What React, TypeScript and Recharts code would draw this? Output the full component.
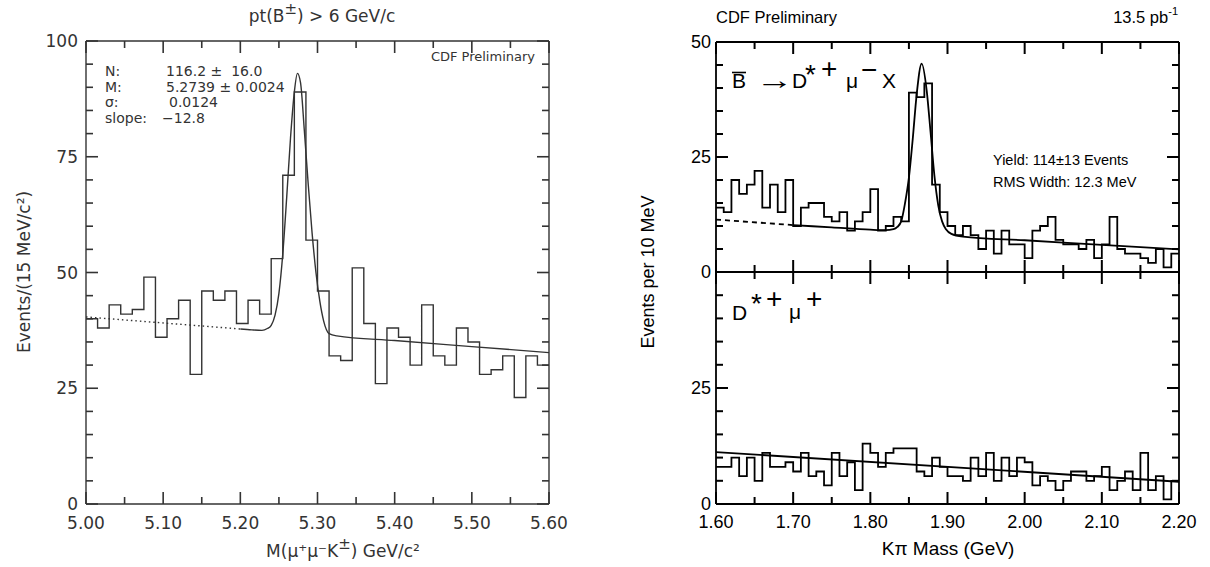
import { ComposedChart, Line, XAxis, YAxis } from 'recharts'

// left: B+- -> J/psi K+- mass, 15 MeV bins
const leftBinStart = 5.0
const leftBinWidth = 0.015
const leftCounts = [
  40, 38, 43, 41, 42, 49, 36, 40, 44, 28, 46, 44, 46, 39, 44, 41, 53, 71, 89, 57,
  46, 32, 31, 51, 39, 26, 38, 36, 30, 43, 32, 30, 38, 35, 28, 29, 32, 23, 32, 30,
]
const leftFitDotted = [
  [5.0, 40.4],
  [5.2, 37.8],
]
const leftFitSolid = [
  [5.2, 37.8], [5.215, 37.6], [5.228, 37.5], [5.235, 37.9], [5.24, 38.6], [5.245, 40.8],
  [5.25, 45.5], [5.255, 54.0], [5.26, 66.0], [5.265, 79.0], [5.27, 89.0], [5.274, 93.0],
  [5.278, 91.0], [5.283, 80.5], [5.288, 69.0], [5.293, 58.5], [5.298, 50.0], [5.303, 43.8],
  [5.308, 39.5], [5.315, 36.8], [5.325, 36.3], [5.4, 35.3], [5.5, 34.0], [5.6, 32.7],
]
const leftXTicks = [5.0, 5.05, 5.1, 5.15, 5.2, 5.25, 5.3, 5.35, 5.4, 5.45, 5.5, 5.55, 5.6]
const leftYTicks = [0, 5, 10, 15, 20, 25, 30, 35, 40, 45, 50, 55, 60, 65, 70, 75, 80, 85, 90, 95, 100]

// right: K pi mass, 10 MeV bins
const rightBinStart = 1.6
const rightBinWidth = 0.01
const rightTopCounts = [
  14, 13, 20, 17, 19, 22, 14, 19, 13, 20, 10, 14, 15, 15, 12, 11, 13, 9, 11, 13,
  18, 9, 10, 12, 11, 39, 38, 41, 19, 13, 10, 8, 10, 8, 5, 9, 4, 9, 6, 6,
  3, 9, 10, 12, 7, 6, 6, 5, 7, 3, 6, 12, 5, 4, 4, 3, 2, 5, 1, 4,
]
const rightBottomCounts = [
  8, 8, 10, 6, 10, 5, 11, 8, 8, 9, 7, 11, 6, 7, 4, 11, 6, 9, 3, 13,
  11, 8, 11, 12, 12, 12, 7, 6, 10, 8, 6, 6, 5, 10, 6, 11, 5, 10, 6, 10,
  9, 4, 6, 5, 3, 5, 7, 7, 5, 6, 8, 3, 5, 7, 3, 11, 3, 6, 1, 5,
]
const rightTopFitDashed = [
  [1.6, 11.4],
  [1.7, 10.2],
]
const rightTopFitSolid = [
  [1.7, 10.2], [1.75, 9.7], [1.8, 9.2], [1.82, 9.1], [1.83, 9.3], [1.835, 9.8], [1.84, 11.0],
  [1.845, 15.0], [1.85, 20.5], [1.855, 29.0], [1.86, 38.5], [1.8665, 45.3], [1.873, 39.5],
  [1.878, 30.5], [1.883, 21.0], [1.888, 14.5], [1.893, 11.0], [1.898, 9.3], [1.905, 8.3],
  [1.92, 7.7], [2.0, 6.9], [2.1, 5.9], [2.2, 4.9],
]
const rightBottomFit = [
  [1.6, 11.2],
  [2.2, 4.8],
]
const rightXTicks = [1.6, 1.65, 1.7, 1.75, 1.8, 1.85, 1.9, 1.95, 2.0, 2.05, 2.1, 2.15, 2.2]
const rightYTicks = [0, 5, 10, 15, 20, 25, 30, 35, 40, 45, 50]

function steps(start: number, width: number, counts: number[]) {
  const pts = counts.map((c, i) => ({ x: +(start + i * width).toFixed(4), y: c }))
  pts.push({ x: +(start + counts.length * width).toFixed(4), y: counts[counts.length - 1] })
  return pts
}
const pairs = (a: number[][]) => a.map(([x, y]) => ({ x, y }))

type Side = 'left' | 'right' | 'top' | 'bottom'
type Look = { color: string; font: string; size: number; stroke: number; tick: number; gap: number; drop: number }

const leftLook: Look = { color: '#333', font: 'DejaVu Sans', size: 17, stroke: 1.4, tick: 1.6, gap: 8, drop: 19 }
const rightLook: Look = { color: '#000', font: 'Liberation Sans', size: 18, stroke: 1.8, tick: 2, gap: 5, drop: 18 }

const xMajor = (v: number) => Math.round(v * 100) % 10 === 0
const yMajor = (v: number) => Math.round(v) % 25 === 0

// inward ticks, long on major values, short on minor ones
function makeTick(side: Side, lk: Look, isMajor: (v: number) => boolean, label?: (v: number) => string | null) {
  return function Tick(p: any) {
    const x = Number(p.x)
    const y = Number(p.y)
    const v = Number(p.payload.value)
    const big = isMajor(v)
    const len = big ? 12 : 7
    const txt = big && label ? label(v) : null
    let d = `M${x},${y}h${len}`
    if (side === 'right') d = `M${x},${y}h${-len}`
    if (side === 'bottom') d = `M${x},${y}v${-len}`
    if (side === 'top') d = `M${x},${y}v${len}`
    return (
      <g>
        <path d={d} stroke={lk.color} strokeWidth={lk.tick} fill="none" />
        {txt !== null && side === 'left' && (
          <text x={x - lk.gap} y={y} textAnchor="end" dominantBaseline="central"
            fontFamily={lk.font} fontSize={lk.size} fill={lk.color}>{txt}</text>
        )}
        {txt !== null && side === 'bottom' && (
          <text x={x} y={y + lk.drop} textAnchor="middle" dominantBaseline="central"
            fontFamily={lk.font} fontSize={lk.size} fill={lk.color}>{txt}</text>
        )}
      </g>
    )
  }
}

function Frame({ lk, xDomain, xTicks, yDomain, yTicks, xLabels, yLabel, bottomH }: {
  lk: Look; xDomain: number[]; xTicks: number[]; yDomain: number[]; yTicks: number[]
  xLabels: boolean; yLabel: (v: number) => string | null; bottomH: number
}) {
  const al = { stroke: lk.color, strokeWidth: lk.stroke }
  return [
    <XAxis key="xb" xAxisId="b" dataKey="x" type="number" domain={xDomain} ticks={xTicks} interval={0}
      allowDataOverflow height={bottomH} tickSize={0} tickMargin={0} axisLine={al}
      tick={makeTick('bottom', lk, xMajor, xLabels ? (v) => v.toFixed(2) : undefined)} />,
    <XAxis key="xt" xAxisId="t" orientation="top" dataKey="x" type="number" domain={xDomain} ticks={xTicks}
      interval={0} allowDataOverflow height={10} tickSize={0} tickMargin={0} axisLine={al}
      tick={makeTick('top', lk, xMajor)} />,
    <YAxis key="yl" yAxisId="l" type="number" domain={yDomain} ticks={yTicks} interval={0} allowDataOverflow
      width={40} tickSize={0} tickMargin={0} axisLine={al} tick={makeTick('left', lk, yMajor, yLabel)} />,
    <YAxis key="yr" yAxisId="r" orientation="right" type="number" domain={yDomain} ticks={yTicks} interval={0}
      allowDataOverflow width={10} tickSize={0} tickMargin={0} axisLine={al} tick={makeTick('right', lk, yMajor)} />,
  ]
}

function series(key: string, data: { x: number; y: number }[], lk: Look, kind: 'stepAfter' | 'monotone' | 'linear', dash?: string) {
  return (
    <Line key={key} xAxisId="b" yAxisId="l" data={data} dataKey="y" type={kind} stroke={lk.color}
      strokeWidth={lk.stroke} strokeDasharray={dash} dot={false} activeDot={false} isAnimationActive={false} />
  )
}

function LeftPlot() {
  return (
    <div style={{ position: 'absolute', left: 0, top: 0 }}>
      <ComposedChart width={600} height={567} margin={{ top: 31, right: 41, bottom: 33, left: 46 }}>
        {Frame({ lk: leftLook, xDomain: [5.0, 5.6], xTicks: leftXTicks, yDomain: [0, 100], yTicks: leftYTicks,
          xLabels: true, yLabel: (v) => String(v), bottomH: 30 })}
        {series('h', steps(leftBinStart, leftBinWidth, leftCounts), leftLook, 'stepAfter')}
        {series('fd', pairs(leftFitDotted), leftLook, 'linear', '1.5 3')}
        {series('fs', pairs(leftFitSolid), leftLook, 'monotone')}
      </ComposedChart>
    </div>
  )
}

function RightPlot() {
  return (
    <>
      <div style={{ position: 'absolute', left: 600, top: 0 }}>
        <ComposedChart width={610} height={567} margin={{ top: 32, right: 21, bottom: 285, left: 76 }}>
          {Frame({ lk: rightLook, xDomain: [1.6, 2.2], xTicks: rightXTicks, yDomain: [0, 50], yTicks: rightYTicks,
            xLabels: false, yLabel: (v) => String(v), bottomH: 10 })}
          {series('h', steps(rightBinStart, rightBinWidth, rightTopCounts), rightLook, 'stepAfter')}
          {series('fd', pairs(rightTopFitDashed), rightLook, 'linear', '5 4')}
          {series('fs', pairs(rightTopFitSolid), rightLook, 'monotone')}
        </ComposedChart>
      </div>
      <div style={{ position: 'absolute', left: 600, top: 0 }}>
        <ComposedChart width={610} height={567} margin={{ top: 262, right: 21, bottom: 33, left: 76 }}>
          {Frame({ lk: rightLook, xDomain: [1.6, 2.2], xTicks: rightXTicks, yDomain: [0, 50], yTicks: rightYTicks,
            xLabels: true, yLabel: (v) => (v === 50 ? null : String(v)), bottomH: 30 })}
          {series('h', steps(rightBinStart, rightBinWidth, rightBottomCounts), rightLook, 'stepAfter')}
          {series('f', pairs(rightBottomFit), rightLook, 'linear')}
        </ComposedChart>
      </div>
    </>
  )
}

function Texts() {
  const L = { fontFamily: 'DejaVu Sans', fill: '#333' }
  const R = { fontFamily: 'Liberation Sans', fill: '#000' }
  return (
    <svg width={1210} height={567} style={{ position: 'absolute', left: 0, top: 0, pointerEvents: 'none' }}>
      {/* left panel */}
      <text x={322} y={22} textAnchor="middle" fontSize={17} {...L}>
        pt(B<tspan dy={-8} fontSize={15}>±</tspan><tspan dy={8}>) &gt; 6 GeV/c</tspan>
      </text>
      <text transform="translate(24,272) rotate(-90)" textAnchor="middle" dominantBaseline="central" fontSize={17} {...L}>
        Events/(15 MeV/c²)
      </text>
      <text x={343} y={557} textAnchor="middle" fontSize={17} {...L}>
        M(μ⁺μ⁻K<tspan dy={-8} fontSize={15}>±</tspan><tspan dy={8}>) GeV/c²</tspan>
      </text>
      <text x={535} y={56} textAnchor="end" dominantBaseline="central" fontSize={13} {...L}>CDF Preliminary</text>
      <g fontSize={14} {...L}>
        <text x={105} y={71} dominantBaseline="central">N:</text>
        <text x={166} y={71} dominantBaseline="central">{'116.2 ±\u00a0\u00a016.0'}</text>
        <text x={105} y={86.5} dominantBaseline="central">M:</text>
        <text x={166} y={86.5} dominantBaseline="central">5.2739 ± 0.0024</text>
        <text x={105} y={102} dominantBaseline="central">σ:</text>
        <text x={169} y={102} dominantBaseline="central">0.0124</text>
        <text x={105} y={118} dominantBaseline="central">slope:</text>
        <text x={162} y={118} dominantBaseline="central">−12.8</text>
      </g>

      {/* right panel */}
      <text x={716} y={17} dominantBaseline="central" fontSize={16.5} {...R}>CDF Preliminary</text>
      <text x={1178} y={17} textAnchor="end" dominantBaseline="central" fontSize={16.5} {...R}>
        13.5 pb<tspan dy={-6} fontSize={11}>-1</tspan>
      </text>
      <text transform="translate(648,272) rotate(-90)" textAnchor="middle" dominantBaseline="central" fontSize={18} {...R}>
        Events per 10 MeV
      </text>
      <text x={948} y={548} textAnchor="middle" dominantBaseline="central" fontSize={19} {...R}>Kπ Mass (GeV)</text>
      <text x={993} y={160} dominantBaseline="central" fontSize={14.5} {...R}>Yield: 114±13 Events</text>
      <text x={993} y={182} dominantBaseline="central" fontSize={14.5} {...R}>RMS Width: 12.3 MeV</text>

      <g {...R}>
        <text x={732} y={88} fontSize={21}>B</text>
        <line x1={732} x2={746} y1={72.5} y2={72.5} stroke="#000" strokeWidth={1.6} />
        <text transform="translate(756,89) scale(1.45,1)" fontSize={26}>→</text>
        <text x={792} y={88} fontSize={21}>D</text>
        <text x={805} y={84} fontSize={28}>*</text>
        <text x={821} y={78} fontSize={28}>+</text>
        <text x={846} y={88} fontSize={21}>μ</text>
        <text x={861} y={79} fontSize={28}>−</text>
        <text x={882} y={88} fontSize={21}>X</text>

        <text x={732} y={320} fontSize={21}>D</text>
        <text x={751} y={313} fontSize={28}>*</text>
        <text x={766} y={308} fontSize={28}>+</text>
        <text x={789} y={319} fontSize={21}>μ</text>
        <text x={806} y={308} fontSize={28}>+</text>
      </g>
    </svg>
  )
}

export default function App() {
  return (
    <div style={{ position: 'absolute', left: 0, top: 0, width: 1210, height: 567, background: '#fff' }}>
      <LeftPlot />
      <RightPlot />
      <Texts />
    </div>
  )
}
